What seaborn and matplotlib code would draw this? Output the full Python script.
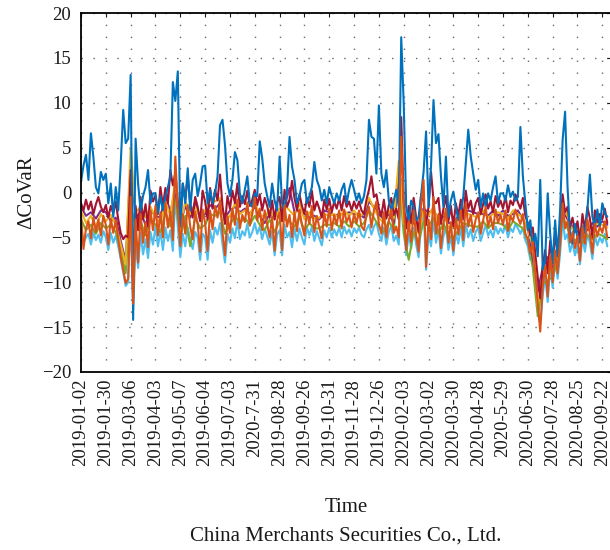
import numpy as np
import pandas as pd
import matplotlib
matplotlib.use("Agg")
import matplotlib.pyplot as plt
import seaborn as sns

# Trading-day tick labels (one every 20 trading days)
tick_labels = [
    "2019-01-02", "2019-01-30", "2019-03-06", "2019-04-03", "2019-05-07",
    "2019-06-04", "2019-07-03", "2020-7-31", "2019-08-28", "2019-09-26",
    "2019-10-31", "2019-11-28", "2019-12-26", "2020-02-03", "2020-03-02",
    "2020-03-30", "2020-04-28", "2020-5-29", "2020-06-30", "2020-07-28",
    "2020-08-25", "2020-09-22",
]
tick_every = 20

# Delta CoVaR series, sampled every 2 trading days
blue = [
    1.2, 3.0, 4.2, 1.4, 6.6, 3.9, 0.6, -0.1, 2.3, 1.4,
    2.1, -1.2, 1.0, -2.7, 0.6, -2.0, 3.2, 9.2, 5.5, 6.0,
    13.1, -14.2, 6.0, 1.0, -2.0, -0.4, 0.6, 2.5, -1.2, -0.1,
    -0.1, -2.3, -0.4, -2.0, -0.5, 0.6, 1.8, 12.3, 10.2, 13.5,
    -3.8, 1.0, -1.2, 2.7, -2.0, 1.4, 2.1, -0.4, 1.0, 2.9,
    3.0, -1.2, 0.3, -1.2, -0.1, 1.8, 7.5, 8.1, 5.3, 1.0,
    -0.4, 1.4, 4.5, 3.6, -0.1, -1.2, 0.3, 1.8, -1.2, -1.6,
    -0.1, -0.4, 5.7, 3.8, 1.0, -0.4, -1.6, 1.0, -0.9, -2.0,
    4.0, -1.2, -2.0, 0.3, 6.2, 2.9, 1.4, -1.2, -0.4, 1.0,
    1.4, -1.2, -0.4, 0.6, 3.4, 1.4, 0.6, -0.9, 0.3, -1.2,
    0.6, -0.4, -1.2, -0.1, -0.9, 0.3, 1.0, -1.2, 0.3, 1.4,
    0.3, -0.9, -0.1, -1.2, -0.4, 1.4, 8.1, 6.2, 6.0, 2.1,
    9.7, 2.1, 0.6, 2.5, -0.9, -2.0, -0.9, 0.3, -1.6, 17.3,
    9.9, -1.6, -3.1, -0.9, -1.6, -3.1, -2.7, -0.3, 2.3, 6.8,
    -1.6, 2.9, 10.3, 5.5, 6.5, 1.8, -1.6, 4.0, -2.7, -0.9,
    0.1, -1.6, -3.1, -2.0, -0.5, 3.2, 7.0, 4.0, 2.1, 0.3,
    1.4, -1.6, -0.1, -1.6, -0.1, -0.9, 0.6, 1.8, -1.2, -0.1,
    -0.1, -0.9, 0.8, -0.5, 0.1, -0.9, -0.5, 7.3, 1.8, -1.2,
    -4.2, -3.1, -6.1, -4.6, -7.1, 1.4, -8.6, -7.5, -0.1, -4.6,
    -7.9, -3.1, -7.1, -1.9, 5.8, 9.0, 0.6, -4.6, -5.7, -3.5,
    -5.1, -5.6, -3.8, -4.6, -1.9, 2.0, -2.7, -3.8, -1.9, -3.8,
    -1.2, -2.3, -2.7,
]
orange = [
    -2.5, -6.3, -4.0, -3.2, -5.1, -2.8, -4.4, -3.0, -4.8, -2.6,
    -3.6, -5.8, -2.9, -4.5, -3.1, -5.2, -7.2, -8.6, -10.1, -9.6,
    -0.5, -12.4, -3.0, -7.8, -2.4, -5.6, -3.3, -6.1, -2.0, -4.2,
    -1.5, -4.8, -2.2, -5.0, -1.2, -3.9, -2.1, -5.3, 4.0, -1.8,
    -6.0, -2.4, -4.6, -1.4, -3.8, -5.2, -2.1, -3.5, -6.6, -1.9,
    -3.4, -6.5, -2.0, -4.1, -1.5, -2.8, -0.9, -4.4, -7.0, -2.6,
    -4.5, -1.8, -3.6, -0.8, -4.0, -2.5, -3.3, -1.1, -3.7, -2.4,
    -0.6, -3.1, -1.8, -4.2, -2.0, -3.5, -5.0, -2.7, -6.5, -3.1,
    -2.2, -6.4, -1.4, -3.8, -2.5, -5.0, -2.2, -4.3, -1.9, -3.6,
    -4.8, -2.1, -3.5, -1.5, -4.4, -2.6, -3.9, -5.1, -2.3, -3.8,
    -1.8, -4.2, -2.5, -3.6, -2.0, -4.0, -1.9, -3.3, -2.6, -3.9,
    -2.4, -3.4, -2.0, -3.8, -4.2, -2.5, -1.6, -3.9, -2.0, -1.0,
    -3.5, -4.6, -2.2, -5.0, -3.1, -1.9, -4.5, -3.8, -5.0, 6.2,
    -1.5, -6.4, -3.2, -5.5, -2.0, -4.8, -6.6, -1.4, 1.4, -8.3,
    -3.0, -5.2, -0.5, -4.6, -2.4, -6.2, -3.5, -1.8, -5.6, -3.3,
    -6.5, -2.9, -4.7, -2.0, -5.3, -1.2, -3.8, -2.5, -4.4, -3.0,
    -2.2, -4.6, -3.1, -1.6, -3.8, -2.7, -4.1, -1.9, -3.4, -2.5,
    -3.6, -2.0, -4.3, -2.6, -3.2, -1.9, -2.8, -3.5, -2.4, -4.6,
    -5.2, -6.8, -5.5, -9.0, -12.4, -15.5, -10.5, -8.2, -11.6, -7.0,
    -10.0, -6.5, -9.0, -5.8, -1.2, -4.0, -3.2, -5.6, -4.4, -6.2,
    -4.8, -7.6, -3.9, -5.7, -3.0, -4.6, -6.8, -3.5, -4.9, -3.8,
    -4.5, -3.2, -5.0,
]
dark_red = [
    -1.2, -2.0, -0.8, -1.9, -1.0, -2.4, -1.3, -0.5, -1.6, -2.2,
    -1.4, -2.8, -1.5, -2.3, -1.0, -3.0, -4.5, -5.2, -4.8, -5.0,
    2.5, -11.0, -1.5, -4.2, -0.5, -3.0, -1.3, -3.8, 0.2, -1.0,
    -0.3, -2.4, 0.6, -1.5, 0.5, -1.2, 2.5, 0.8, 2.2, -1.0,
    -3.5, 1.0, -0.8, 1.8, -1.2, -2.8, -0.5, -1.6, -3.2, 0.2,
    -1.0, -3.0, 0.5, -1.8, 0.3, -0.9, 2.0, -1.5, -3.5, -0.4,
    -1.8, 0.2, -1.2, 1.0, -1.6, -0.4, -1.3, 0.2, -1.5, -0.8,
    0.3, -1.4, -0.2, -2.0, -0.6, -1.5, -2.8, -0.9, -3.0, -1.1,
    -0.5, -3.2, 0.3, -1.6, -0.8, 1.3, -0.6, -2.0, -0.2, -1.5,
    -2.4, -0.6, -1.6, 0.2, -2.0, -1.0, -1.8, -2.8, -0.8, -1.9,
    -0.7, -2.2, -1.0, -1.8, -0.6, -2.0, -0.4, -1.6, -1.0, -2.0,
    -1.0, -1.8, -1.0, -2.0, -2.4, -0.8, 0.3, 1.8, -0.5, -0.2,
    -1.8, -2.6, -0.8, -2.9, -1.4, -0.6, -2.5, -1.8, -3.0, 8.4,
    -1.0, -4.0, -1.5, -3.4, -0.6, -2.8, -4.4, -0.2, -1.0, -3.6,
    -1.6, 2.3, -0.9, -1.2, -0.6, -3.5, -1.8, -0.4, -3.2, -1.5,
    -3.8, -1.2, -2.6, -0.8, -3.0, 0.2, -1.8, -0.9, -2.4, -1.2,
    -0.6, -2.4, -1.3, -0.2, -1.8, -1.0, -2.2, -0.4, -1.6, -0.9,
    -1.8, -0.4, -2.2, -0.9, -1.4, -0.2, -1.1, -1.8, -0.6, -2.6,
    -3.4, -4.8, -3.9, -6.8, -9.5, -11.8, -8.2, -6.4, -9.0, -5.4,
    -7.8, -4.6, -7.0, -4.0, -0.2, -2.2, -1.6, -3.9, -2.8, -4.4,
    -3.2, -5.6, -2.4, -4.1, -1.6, -2.9, -5.0, -2.0, -3.3, -2.4,
    -3.0, -1.8, -3.4,
]
light_blue = [
    -3.8, -5.6, -5.0, -4.6, -5.8, -4.4, -5.3, -4.7, -5.6, -4.3,
    -5.0, -6.4, -4.5, -5.6, -4.8, -6.0, -7.4, -8.9, -10.4, -10.0,
    -2.8, -13.0, -5.6, -8.4, -4.5, -6.9, -5.2, -7.3, -4.4, -5.8,
    -3.8, -6.0, -4.3, -6.4, -3.9, -5.4, -4.2, -6.5, -0.5, -3.9,
    -7.2, -4.6, -6.0, -3.9, -5.2, -6.3, -4.4, -5.0, -7.5, -4.6,
    -5.0, -7.5, -4.2, -5.6, -3.9, -4.7, -3.4, -5.8, -7.8, -4.6,
    -5.6, -4.0, -5.1, -3.2, -5.2, -4.3, -4.8, -3.5, -5.0, -4.4,
    -3.4, -4.6, -3.8, -5.2, -4.0, -4.9, -5.8, -4.3, -7.0, -4.7,
    -4.2, -7.0, -3.6, -5.0, -4.4, -6.1, -4.0, -5.4, -4.0, -5.0,
    -5.8, -3.9, -4.8, -3.8, -5.4, -4.3, -5.1, -5.9, -4.2, -5.0,
    -3.9, -5.0, -4.1, -4.8, -3.9, -5.0, -3.8, -4.6, -4.1, -4.9,
    -4.0, -4.5, -3.9, -4.7, -5.0, -4.1, -3.6, -4.7, -3.8, -3.3,
    -4.6, -5.4, -3.9, -5.8, -4.4, -3.7, -5.4, -4.8, -5.8, 1.5,
    -3.8, -7.0, -4.6, -6.2, -3.9, -5.8, -7.2, -3.6, -1.8, -8.6,
    -4.6, -6.0, -3.0, -5.6, -4.1, -6.8, -4.9, -3.8, -6.4, -4.8,
    -7.0, -4.5, -5.7, -3.9, -6.0, -3.5, -5.0, -4.1, -5.4, -4.4,
    -3.9, -5.4, -4.5, -3.6, -4.8, -4.2, -5.0, -3.8, -4.6, -4.0,
    -4.5, -3.6, -5.0, -4.0, -4.4, -3.5, -4.0, -4.6, -3.9, -5.3,
    -6.0, -7.5, -6.6, -9.6, -13.0, -14.6, -11.4, -9.3, -12.2, -8.2,
    -10.6, -7.4, -9.6, -6.8, -3.0, -5.2, -4.6, -6.6, -5.6, -7.0,
    -5.8, -8.0, -5.0, -6.6, -4.6, -5.6, -7.4, -4.8, -5.9, -5.0,
    -5.6, -4.6, -6.0,
]

# Series sampled every 4 trading days
yellow = [
    -2.0, -3.4, -2.6, -3.8, -2.4, -3.2, -2.5, -3.6, -5.8, -8.0,
    5.0, -2.2, -1.6, -2.8, -1.6, -2.8, -3.4, -1.0, -2.6, 1.5,
    -4.2, -0.9, -2.4, -1.6, -2.8, -2.0, -0.8, -1.0, -0.6, -3.4,
    -2.6, -1.2, -2.4, -2.0, -2.6, -1.2, -2.4, -2.8, -1.9, -3.0,
    -1.8, -1.4, -2.0, -2.6, -1.2, -3.0, -2.2, -2.9, -2.8, -2.4,
    -2.6, -2.4, -2.8, -2.0, -2.6, -2.0, -2.8, -2.2, -0.6, -1.8,
    -2.8, -3.4, -2.0, -2.9, 3.5, -3.5, -3.9, -3.0, -4.6, -2.0,
    -2.6, -1.6, -3.5, -2.2, -3.9, -3.8, -3.0, -2.2, -2.4, -2.6,
    -2.8, -2.0, -2.8, -2.4, -2.2, -2.4, -3.0, -2.0, -2.4, -2.8,
    -4.2, -6.0, -12.6, -9.0, -8.4, -7.6, -6.0, -1.5, -2.6, -4.2,
    -4.0, -4.2, -3.6, -4.0, -3.4, -3.6, -3.9,
]
purple = [
    -1.6, -2.6, -2.2, -2.9, -2.0, -2.2, -3.2, -2.8, -5.4, -7.6,
    3.2, -2.8, -2.2, -3.6, -2.0, -2.6, -2.8, -0.2, -2.2, 0.2,
    -3.6, -1.5, -2.8, -1.0, -3.0, -2.4, -1.4, -1.8, -1.2, -2.8,
    -2.0, -1.6, -2.2, -1.8, -2.4, -1.6, -2.6, -3.4, -2.4, -2.6,
    -2.6, -1.6, 0.5, -2.2, -2.0, -2.4, -2.8, -2.6, -3.0, -2.0,
    -2.2, -2.6, -2.4, -2.4, -2.2, -2.4, -2.4, -2.8, -1.0, -1.6,
    -2.4, -3.0, -2.4, -3.4, 2.4, -3.0, -3.2, -3.4, -4.2, -1.8,
    -2.2, -2.0, -3.0, -2.6, -3.4, -3.4, -2.6, -2.6, -2.0, -2.2,
    -2.4, -2.4, -2.6, -2.0, -2.6, -2.0, -2.6, -2.4, -2.0, -3.0,
    -4.0, -7.4, -11.0, -8.4, -7.2, -8.4, -6.4, -2.0, -3.0, -3.8,
    -4.4, -3.8, -4.2, -3.4, -3.8, -3.2, -3.6,
]
green = [
    -3.0, -4.2, -3.6, -4.6, -3.4, -4.0, -3.6, -4.4, -6.4, -9.0,
    -1.4, -3.8, -3.2, -4.8, -3.0, -3.6, -4.4, -2.2, -3.8, -0.4,
    -5.0, -2.6, -6.0, -2.8, -4.0, -3.6, -2.4, -2.6, -2.2, -4.6,
    -3.6, -2.6, -3.4, -2.8, -3.6, -2.6, -3.6, -4.2, -3.0, -4.4,
    -3.2, -3.0, -3.2, -3.8, -2.8, -4.2, -3.4, -4.0, -4.0, -3.6,
    -3.6, -3.4, -3.8, -3.2, -3.8, -3.2, -3.8, -3.4, -2.0, -2.8,
    -3.8, -4.4, -3.2, -4.2, 2.0, -4.6, -7.5, -4.4, -5.6, -3.2,
    -3.8, -2.8, -4.6, -3.4, -5.0, -5.0, -4.2, -3.4, -3.6, -3.8,
    -3.8, -3.2, -4.0, -3.4, -3.4, -3.6, -4.2, -3.2, -3.6, -4.0,
    -5.4, -8.4, -13.8, -10.2, -9.8, -9.4, -7.6, -2.6, -4.0, -5.4,
    -5.2, -5.6, -4.8, -5.2, -4.6, -4.8, -5.2,
]

series = {
    "s6": (light_blue, 2, "#4DBEEE"),
    "s5": (green, 4, "#77AC30"),
    "s4": (purple, 4, "#7E2F8E"),
    "s3": (yellow, 4, "#EDB120"),
    "s7": (dark_red, 2, "#A2142F"),
    "s1": (blue, 2, "#0072BD"),
    "s2": (orange, 2, "#D95319"),
}

frames = []
for name, (vals, step, _) in series.items():
    frames.append(pd.DataFrame({
        "day": np.arange(len(vals)) * step,
        "dcovar": vals,
        "series": name,
    }))
df = pd.concat(frames, ignore_index=True)
palette = {name: c for name, (_, _, c) in series.items()}

sns.set_theme(style="white")
plt.rcParams["font.family"] = ["Liberation Serif", "DejaVu Serif"]
plt.rcParams["axes.unicode_minus"] = True

text_color = "#1a1a1a"

fig = plt.figure(figsize=(6.1, 5.5), dpi=100)
ax = fig.add_axes([81 / 610, 1 - 372 / 550, 530 / 610, 359 / 550])

sns.lineplot(data=df, x="day", y="dcovar", hue="series",
             hue_order=list(series.keys()), palette=palette,
             estimator=None, sort=False, legend=False,
             linewidth=1.5, ax=ax)

ax.set_xlim(0, 427)
ax.set_ylim(-20, 20)
ax.set_yticks(np.arange(-20, 21, 5))
ax.set_xticks(np.arange(len(tick_labels)) * tick_every)
ax.set_xticklabels(tick_labels, rotation=90)

ax.grid(True, linestyle=(0, (1, 7.6)), color="#6a6a6a", linewidth=1.0)
ax.set_axisbelow(True)

for side in ["left", "bottom", "top", "right"]:
    ax.spines[side].set_visible(True)
    ax.spines[side].set_color("black")
    ax.spines[side].set_linewidth(1.3)

ax.tick_params(axis="both", direction="in", length=3, width=0.8,
               top=True, right=True, labelsize=13.5, colors=text_color,
               pad=5)
ax.tick_params(axis="y", pad=7)

ax.set_ylabel("ΔCoVaR", fontsize=15, color=text_color, labelpad=4)
ax.set_xlabel("Time", fontsize=15, color=text_color)
ax.xaxis.set_label_coords(265 / 530, (372 - 507) / 359)
ax.xaxis.label.set_va("center")
fig.text(346 / 610, 1 - 536 / 550, "China Merchants Securities Co., Ltd.",
         ha="center", va="center", fontsize=15, color=text_color)

fig.savefig("out.png", dpi=100)
